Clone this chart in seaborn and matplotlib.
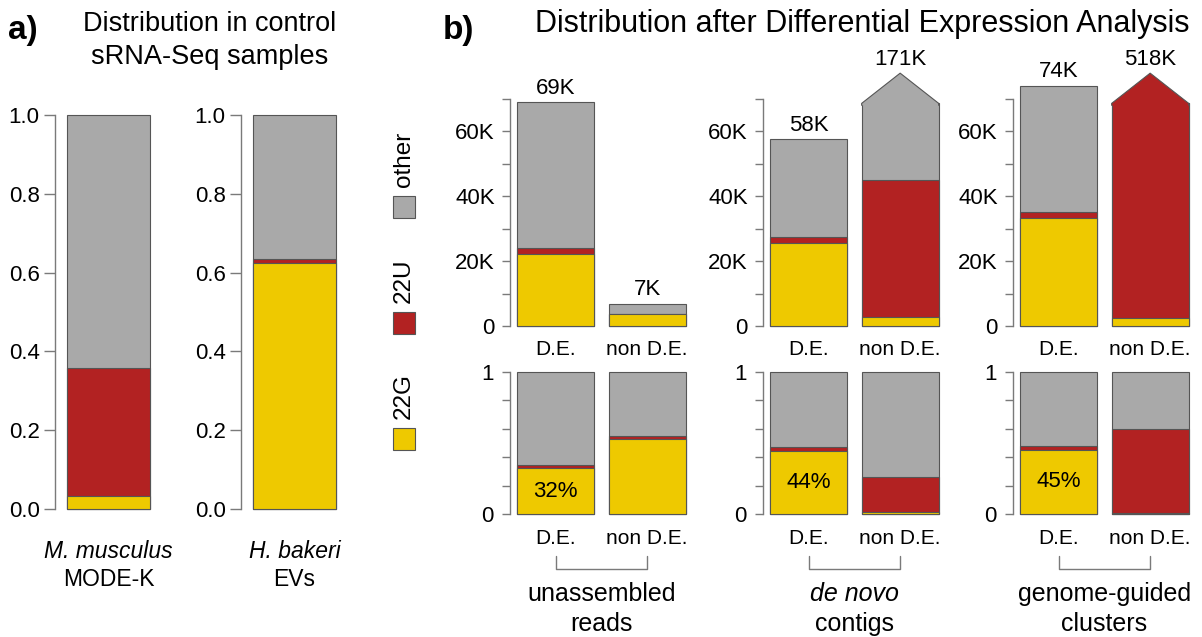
import numpy as np
import matplotlib
matplotlib.use("Agg")
import matplotlib.pyplot as plt
import matplotlib.transforms as mtransforms
from matplotlib.patches import Rectangle
import seaborn as sns

# ---------------- data ----------------
ctrl_species = ["M. musculus", "H. bakeri"]
ctrl_samples = ["MODE-K", "EVs"]
ctrl_22g = [0.034, 0.624]
ctrl_22u = [0.325, 0.011]

classes = ["22G", "22U", "other"]
class_colors = ["#EEC900", "#B22222", "#A9A9A9"]

conditions = ["D.E.", "non D.E."]
group_line1 = ["unassembled", "de novo", "genome-guided"]
group_line2 = ["reads", "contigs", "clusters"]
group_italic = [False, True, False]
de_totals_k = [[69, 6.9], [57.6, 171], [74, 518]]
de_frac_22g = [[0.32, 0.53], [0.443, 0.016], [0.45, 0.005]]
de_frac_22u = [[0.026, 0.018], [0.03, 0.246], [0.026, 0.595]]

count_ticks = [0, 10, 20, 30, 40, 50, 60, 70]
count_labels = ["0", "", "20K", "", "40K", "", "60K", ""]
frac_ticks_a = [0, 0.2, 0.4, 0.6, 0.8, 1.0]
frac_labels_a = ["0.0", "0.2", "0.4", "0.6", "0.8", "1.0"]
frac_ticks_b = [0, 0.2, 0.4, 0.6, 0.8, 1.0]
frac_labels_b = ["0", "", "", "", "", "1"]

# ---------------- style ----------------
sns.set_style("ticks")
plt.rcParams["font.family"] = ["Liberation Sans", "DejaVu Sans"]
plt.rcParams["text.color"] = "black"
plt.rcParams["xtick.labelcolor"] = "black"
plt.rcParams["ytick.labelcolor"] = "black"

W, H = 1202, 637
fig = plt.figure(figsize=(W / 100, H / 100), dpi=100)

EDGE = "#555555"
AXC = "#7a7a7a"
TICK_FS = 16


def add_ax(left, top, right, bottom):
    return fig.add_axes([left / W, 1 - bottom / H, (right - left) / W, (bottom - top) / H])


def stacked(ax, cats, layers, width):
    for vals, color in layers:
        sns.barplot(x=cats, y=list(vals), order=cats, color=color, width=width,
                    edgecolor=EDGE, linewidth=0.8, saturation=1, errorbar=None, ax=ax)
    for p in ax.patches:
        p.set_clip_on(False)


def style(ax, ylim, bounds, ticks, labels, ticklen, pad):
    ax.set_ylim(*ylim)
    for s in ["top", "right", "bottom"]:
        ax.spines[s].set_visible(False)
    ax.spines["left"].set_bounds(*bounds)
    ax.spines["left"].set_color(AXC)
    ax.spines["left"].set_linewidth(1.0)
    ax.set_yticks(ticks)
    ax.set_yticklabels(labels)
    ax.tick_params(axis="y", length=ticklen, width=1.0, color=AXC, pad=pad, labelsize=TICK_FS,
                   labelcolor="black")
    ax.tick_params(axis="x", length=0, labelcolor="black")
    ax.set_xlabel("")
    ax.set_ylabel("")
    ax.patch.set_visible(False)


# ---------------- panel a ----------------
wa = 0.8
ua = 83 / wa
for i, sx in enumerate([55, 241]):
    ax = add_ax(sx, 115, sx + 100, 509)
    g = ctrl_22g[i]
    gu = ctrl_22g[i] + ctrl_22u[i]
    cat = [ctrl_species[i]]
    stacked(ax, cat, [([1.0], class_colors[2]), ([gu], class_colors[1]), ([g], class_colors[0])], wa)
    ax.set_xlim(-wa / 2 - 12 / ua, wa / 2 + 5 / ua)
    style(ax, (0, 1), (0, 1), frac_ticks_a, frac_labels_a, 8, 3)
    ax.set_xticks([])
    tr = mtransforms.blended_transform_factory(ax.transData, ax.transAxes)
    ax.text(0, (509 - 551) / 394, ctrl_species[i], transform=tr, ha="center", va="center",
            fontsize=16.5, style="italic")
    ax.text(0, (509 - 579) / 394, ctrl_samples[i], transform=tr, ha="center", va="center",
            fontsize=16.5)

# ---------------- legend ----------------
lg = add_ax(380, 120, 430, 470)
lg.set_xlim(380, 430)
lg.set_ylim(470, 120)
lg.axis("off")
for k, (name, col) in enumerate(zip(classes, class_colors)):
    ytop = 428 - k * 116
    lg.add_patch(Rectangle((393, ytop), 22, 22, facecolor=col, edgecolor=EDGE, linewidth=0.8))
    lg.text(404, ytop - 9, name, rotation=90, ha="center", va="bottom", fontsize=17.5)

# ---------------- panel b ----------------
wb = 0.84
ub = 77 / wb
CLIP = 68.5
APEX = 77.8
for gi, sx in enumerate([510, 763, 1013]):
    axw = (2 * wb / 2 + 1) * ub + 10
    xl = (-wb / 2 - 7 / ub, 1 + wb / 2 + 3 / ub)
    tot = np.array(de_totals_k[gi], dtype=float)
    fg = np.array(de_frac_22g[gi])
    fu = np.array(de_frac_22u[gi])

    # ---- counts (top) ----
    axt = add_ax(sx, 40, sx + axw, 326)
    clipped = tot > 100
    lim = np.where(clipped, CLIP, np.inf)
    v_other = np.minimum(tot, lim)
    v_u = np.minimum((fg + fu) * tot, lim)
    v_g = np.minimum(fg * tot, lim)
    stacked(axt, conditions, [(v_other, class_colors[2]), (v_u, class_colors[1]), (v_g, class_colors[0])], wb)
    axt.set_xlim(*xl)
    style(axt, (0, 286 / 3.25), (0, 70), count_ticks, count_labels, 6, 5)
    axt.tick_params(axis="x", pad=10, labelsize=15)
    nb = len(conditions)
    for j in range(nb):
        p = axt.patches[j]
        x0 = p.get_x()
        x1 = x0 + p.get_width()
        xc = (x0 + x1) / 2
        top = tot[j]
        if clipped[j]:
            topcol = class_colors[1] if (fg[j] + fu[j]) * tot[j] >= CLIP else class_colors[2]
            axt.fill([x0, x0, xc, x1, x1], [CLIP - 0.6, CLIP, APEX, CLIP, CLIP - 0.6],
                     color=topcol, linewidth=0, clip_on=False, zorder=3)
            axt.plot([x0, x0, xc, x1, x1], [CLIP - 0.6, CLIP, APEX, CLIP, CLIP - 0.6],
                     color=EDGE, linewidth=0.8, clip_on=False, zorder=4)
            top = APEX
        axt.text(xc, top + 1.0, f"{tot[j]:.0f}K", ha="center", va="bottom", fontsize=16)

    # ---- fractions (bottom) ----
    axb = add_ax(sx, 371.7, sx + axw, 514)
    stacked(axb, conditions, [(np.ones(nb), class_colors[2]), (fg + fu, class_colors[1]), (fg, class_colors[0])], wb)
    axb.set_xlim(*xl)
    style(axb, (0, 1), (0, 1), frac_ticks_b, frac_labels_b, 6, 6)
    axb.tick_params(axis="x", pad=11, labelsize=15)
    p = axb.patches[0]
    xc0 = p.get_x() + p.get_width() / 2
    axb.text(xc0, fg[0] / 2, f"{round(fg[0] * 100)}%", ha="center", va="center", fontsize=16)

    # bracket and group label
    tr = mtransforms.blended_transform_factory(axb.transData, axb.transAxes)
    y_h = (514 - 569) / 142.3
    y_v = (514 - 556) / 142.3
    axb.plot([0, 0, 1, 1], [y_v, y_h, y_h, y_v], transform=tr, color=AXC, linewidth=1.0, clip_on=False)
    axb.text(0.5, (514 - 594) / 142.3, group_line1[gi], transform=tr, ha="center", va="center",
             fontsize=18, style="italic" if group_italic[gi] else "normal")
    axb.text(0.5, (514 - 624) / 142.3, group_line2[gi], transform=tr, ha="center", va="center",
             fontsize=18)

# ---------------- titles ----------------
fig.text(8 / W, 1 - 31 / H, "a)", fontsize=24, fontweight="bold", ha="left", va="center")
fig.text(443 / W, 1 - 31 / H, "b)", fontsize=24, fontweight="bold", ha="left", va="center")
fig.text(210 / W, 1 - 24 / H, "Distribution in control", fontsize=19.5, ha="center", va="center")
fig.text(210 / W, 1 - 57 / H, "sRNA-Seq samples", fontsize=19.5, ha="center", va="center")
fig.text(862 / W, 1 - 24 / H, "Distribution after Differential Expression Analysis", fontsize=22,
         ha="center", va="center")

fig.savefig("out.png", dpi=100)
